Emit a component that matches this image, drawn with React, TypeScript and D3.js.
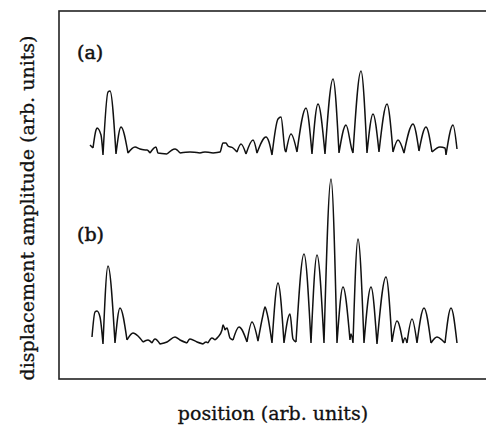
import React, { useEffect, useRef } from "react";
import * as d3 from "d3";

// trace (a): [position, amplitude] (arb. units)
const traceA: [number, number][] = [
  [0, 10], [2, 8], [3, 7], [6, 25], [7, 27], [11, 20], [13, 0],
  [18, 63], [20, 64], [26, 1], [31, 28], [38, 2],
  [45, 8], [50, 6], [55, 5], [57, 5], [60, 2], [66, 8], [68, 2], [77, 1],
  [85, 6], [90, 2], [100, 3], [110, 2], [115, 3], [123, 2], [130, 3],
  [133, 12], [136, 12], [138, 9], [143, 7], [147, 3],
  [151, 11], [156, 1], [163, 15], [167, 2], [176, 18], [179, 13], [182, 0],
  [188, 36], [191, 38], [195, 5], [196, 3], [201, 21], [207, 3],
  [216, 47], [222, 1], [228, 51], [235, 1], [243, 76], [249, 2],
  [256, 30], [262, 5], [263, 2], [271, 84], [277, 2], [283, 41], [289, 3],
  [297, 51], [303, 3], [308, 15], [314, 2], [323, 31], [329, 4],
  [336, 28], [342, 3], [350, 8], [355, 7], [356, 0], [363, 30], [367, 6],
];

// trace (b)
const traceB: [number, number][] = [
  [2, 7], [5, 32], [7, 33], [10, 27], [13, 0], [18, 78], [25, 1],
  [30, 36], [37, 4], [43, 11], [48, 8], [53, 2], [58, 4], [62, 1], [65, 5],
  [70, 0], [77, 2], [85, 7], [90, 4], [97, 1], [100, 5], [107, 2], [113, 0],
  [116, 2], [118, 1], [122, 6], [125, 4], [128, 7], [132, 14], [133, 19],
  [135, 14], [137, 16], [140, 6], [143, 4], [149, 17], [157, 2], [162, 22],
  [168, 3], [173, 29], [175, 37], [177, 31], [182, 1], [188, 61], [194, 1],
  [200, 30], [203, 5], [206, 2], [214, 90], [221, 1], [227, 89], [234, 1],
  [241, 165], [247, 1], [253, 57], [260, 4], [261, 10], [263, 1],
  [268, 105], [274, 1], [281, 57], [287, 0], [296, 67], [302, 2],
  [307, 23], [313, 1], [315, 6], [317, 1], [322, 25], [327, 1],
  [334, 36], [341, 1], [347, 7], [352, 4], [355, 1], [361, 36], [367, 1],
];

const panelLabels = ["(a)", "(b)"];
const xLabel = "position (arb. units)";
const yLabel = "displacement amplitude (arb. units)";

// split a trace at its local minima so each lobe gets a sharp cusp
function lobes(pts: [number, number][]) {
  const segs: [number, number][][] = [];
  let start = 0;
  for (let i = 1; i < pts.length - 1; i++) {
    if (pts[i][1] <= pts[i - 1][1] && pts[i][1] <= pts[i + 1][1]) {
      segs.push(pts.slice(start, i + 1));
      start = i;
    }
  }
  segs.push(pts.slice(start));
  return segs;
}

const App = () => {
  const svgRef = useRef<SVGSVGElement>(null);

  useEffect(() => {
    const svg = d3.select(svgRef.current);
    svg.selectAll("*").remove();

    const width = 486;
    const height = 426;
    const box = { left: 59, top: 11, right: 492, bottom: 379 };

    const x = d3.scaleLinear().domain([0, 367]).range([90, 457]);
    const yA = d3.scaleLinear().domain([0, 100]).range([155, 55]);
    const yB = d3.scaleLinear().domain([0, 170]).range([344, 174]);

    svg.attr("width", width).attr("height", height);

    svg.append("rect")
      .attr("x", box.left)
      .attr("y", box.top)
      .attr("width", box.right - box.left)
      .attr("height", box.bottom - box.top)
      .attr("fill", "none")
      .attr("stroke", "#222")
      .attr("stroke-width", 1.6);

    const traces = [
      { data: traceA, y: yA },
      { data: traceB, y: yB },
    ];

    traces.forEach(t => {
      const line = d3.line<[number, number]>()
        .x(d => x(d[0]))
        .y(d => t.y(d[1]))
        .curve(d3.curveMonotoneX);
      const d = lobes(t.data).map(s => line(s)).join("");
      svg.append("path")
        .attr("d", d)
        .attr("fill", "none")
        .attr("stroke", "#111")
        .attr("stroke-width", 1.5)
        .attr("stroke-linejoin", "round");
    });

    const font = "'DejaVu Serif', serif";

    svg.selectAll(".panel")
      .data(panelLabels)
      .enter()
      .append("text")
      .attr("x", 77)
      .attr("y", (d, i) => (i === 0 ? 59 : 241))
      .attr("font-family", font)
      .attr("font-size", 19)
      .attr("fill", "#111")
      .attr("stroke", "#111")
      .attr("stroke-width", 0.5)
      .text(d => d);

    svg.append("text")
      .attr("x", 273)
      .attr("y", 420)
      .attr("text-anchor", "middle")
      .attr("font-family", font)
      .attr("font-size", 19)
      .attr("fill", "#111")
      .attr("stroke", "#111")
      .attr("stroke-width", 0.3)
      .text(xLabel);

    svg.append("text")
      .attr("transform", "translate(34,208) rotate(-90)")
      .attr("text-anchor", "middle")
      .attr("font-family", font)
      .attr("font-size", 19)
      .attr("fill", "#111")
      .attr("stroke", "#111")
      .attr("stroke-width", 0.3)
      .text(yLabel);
  }, []);

  return (
    <svg
      ref={svgRef}
      style={{ position: "absolute", left: 0, top: 0, background: "#fff" }}
    />
  );
};

export default App;
